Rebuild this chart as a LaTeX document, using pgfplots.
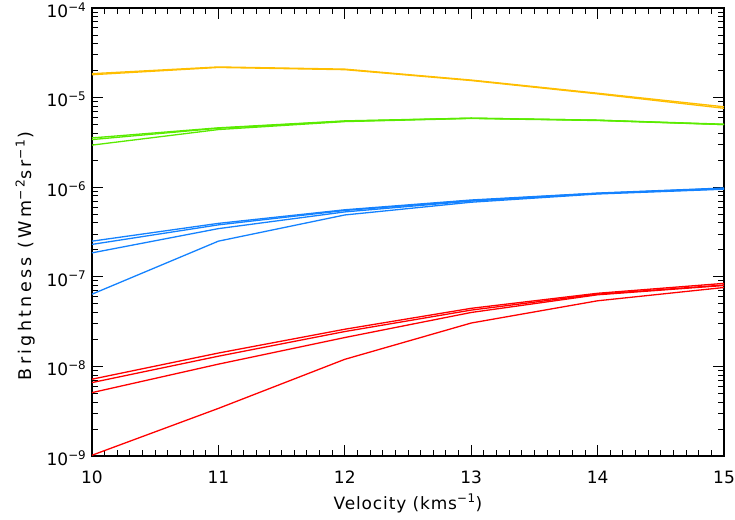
\documentclass[border=0pt]{standalone}
\usepackage{pgfplots}
\pgfplotsset{compat=1.18}
\usepackage{fontspec}
\setmainfont{DejaVu Sans}
\definecolor{cY}{RGB}{255,190,0}
\definecolor{cG}{RGB}{90,235,0}
\definecolor{cB}{RGB}{20,130,255}
\definecolor{cR}{RGB}{255,0,0}
\begin{document}
\begin{tikzpicture}
\begin{axis}[
  at={(0pt,0pt)}, anchor=south west,
  scale only axis, width=632pt, height=448pt,
  xmin=10, xmax=15, ymode=log, ymin=1e-9, ymax=1e-4,
  xtick={10,11,12,13,14,15}, minor x tick num=9,
  ytick={1e-9,1e-8,1e-7,1e-6,1e-5,1e-4},
  yticklabels={10\textsuperscript{−9},10\textsuperscript{−8},10\textsuperscript{−7},10\textsuperscript{−6},10\textsuperscript{−5},10\textsuperscript{−4}},
  minor ytick={2e-9,3e-9,4e-9,5e-9,6e-9,7e-9,8e-9,9e-9,
    2e-8,3e-8,4e-8,5e-8,6e-8,7e-8,8e-8,9e-8,
    2e-7,3e-7,4e-7,5e-7,6e-7,7e-7,8e-7,9e-7,
    2e-6,3e-6,4e-6,5e-6,6e-6,7e-6,8e-6,9e-6,
    2e-5,3e-5,4e-5,5e-5,6e-5,7e-5,8e-5,9e-5},
  /pgf/number format/assume math mode=true,
  tick align=inside,
  major tick length=11pt,
  minor tick length=6pt,
  tick style={black, line width=0.9pt},
  axis line style={line width=1.2pt},
  ticklabel style={font=\fontsize{17}{20}\selectfont, inner sep=0pt},
  xticklabel style={anchor=north, yshift=-15pt},
  yticklabel style={anchor=east, xshift=-5.5pt, yshift=-2pt},
  xlabel={Velocity (kms\textsuperscript{−1})},
  ylabel={Brightness (Wm\textsuperscript{−2}sr\textsuperscript{−1})},
  xlabel style={font=\fontsize{17}{20}\selectfont\addfontfeature{LetterSpace=5}, at={(axis description cs:0.5,0)}, anchor=north, inner sep=0pt, yshift=-38pt},
  ylabel style={font=\fontsize{17.5}{20}\selectfont\addfontfeature{LetterSpace=19}, at={(axis description cs:-0.0965,0.446)}, anchor=base, inner sep=0pt},
  every axis plot/.append style={line width=1.3pt},
]
% yellow
\addplot[cY] coordinates {(10,1.85e-5) (11,2.20e-5) (12,2.08e-5) (13,1.57e-5) (14,1.12e-5) (15,7.9e-6)};
\addplot[cY] coordinates {(10,1.80e-5) (11,2.17e-5) (12,2.05e-5) (13,1.55e-5) (14,1.10e-5) (15,7.6e-6)};
% green
\addplot[cG] coordinates {(10,3.55e-6) (11,4.6e-6) (12,5.5e-6) (13,5.9e-6) (14,5.6e-6) (15,5.05e-6)};
\addplot[cG] coordinates {(10,3.40e-6) (11,4.55e-6) (12,5.45e-6) (13,5.9e-6) (14,5.6e-6) (15,5.0e-6)};
\addplot[cG] coordinates {(10,2.95e-6) (11,4.4e-6) (12,5.4e-6) (13,5.85e-6) (14,5.55e-6) (15,5.0e-6)};
% blue
\addplot[cB] coordinates {(10,2.5e-7) (11,3.95e-7) (12,5.6e-7) (13,7.2e-7) (14,8.6e-7) (15,9.8e-7)};
\addplot[cB] coordinates {(10,2.3e-7) (11,3.8e-7) (12,5.5e-7) (13,7.1e-7) (14,8.55e-7) (15,9.7e-7)};
\addplot[cB] coordinates {(10,1.85e-7) (11,3.45e-7) (12,5.3e-7) (13,7.0e-7) (14,8.5e-7) (15,9.6e-7)};
\addplot[cB] coordinates {(10,6.4e-8) (11,2.5e-7) (12,4.9e-7) (13,6.8e-7) (14,8.4e-7) (15,9.5e-7)};
% red
\addplot[cR] coordinates {(10,7.2e-9) (11,1.41e-8) (12,2.6e-8) (13,4.45e-8) (14,6.55e-8) (15,8.45e-8)};
\addplot[cR] coordinates {(10,6.6e-9) (11,1.3e-8) (12,2.45e-8) (13,4.25e-8) (14,6.4e-8) (15,8.1e-8)};
\addplot[cR] coordinates {(10,5.1e-9) (11,1.06e-8) (12,2.1e-8) (13,4.0e-8) (14,6.3e-8) (15,8.0e-8)};
\addplot[cR] coordinates {(10,1.02e-9) (11,3.4e-9) (12,1.2e-8) (13,3.05e-8) (14,5.4e-8) (15,7.6e-8)};
\end{axis}
\pgfresetboundingbox
\useasboundingbox (-92pt,-63pt) rectangle (643pt,456pt);
\end{tikzpicture}
\end{document}
